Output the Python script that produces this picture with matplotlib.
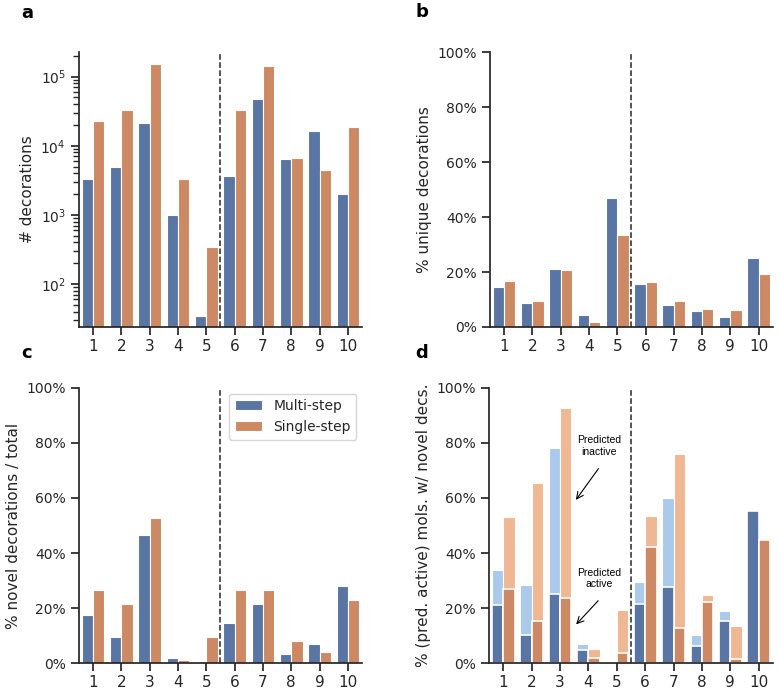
import numpy as np
import matplotlib
matplotlib.use("Agg")
import matplotlib.pyplot as plt
import matplotlib.ticker as mticker
import seaborn as sns

sns.set_theme(style="ticks")
plt.rcParams["font.family"] = ["DejaVu Sans"]

categories = ["1", "2", "3", "4", "5", "6", "7", "8", "9", "10"]

# panel a: number of decorations (log scale)
multi_decorations = [3340, 4890, 21400, 1000, 35, 3650, 47900, 6330, 16400, 2000]
single_decorations = [23100, 32400, 150000, 3340, 347, 32400, 141000, 6620, 4470, 18700]

# panel b: % unique decorations
multi_unique = [14.5, 8.9, 21.0, 4.5, 46.8, 15.8, 8.1, 5.7, 3.5, 25.0]
single_unique = [16.8, 9.6, 20.6, 1.7, 33.4, 16.3, 9.6, 6.7, 6.3, 19.2]

# panel c: % novel decorations / total
multi_novel = [17.3, 9.6, 46.5, 1.7, 0.0, 14.7, 21.6, 3.2, 6.8, 28.0]
single_novel = [26.7, 21.6, 52.8, 1.2, 9.6, 26.7, 26.7, 8.1, 4.0, 22.9]

# panel d: % mols with novel decorations (total) and predicted active part
multi_total = [33.9, 28.5, 78.3, 6.8, 0.0, 29.5, 59.9, 10.1, 18.8, 55.3]
multi_active = [21.2, 10.2, 25.2, 4.8, 0.0, 21.6, 27.5, 6.1, 15.2, 55.3]
single_total = [53.0, 65.3, 92.6, 5.0, 19.3, 53.5, 76.0, 24.7, 13.3, 45.6]
single_active = [26.9, 15.2, 23.5, 1.8, 3.6, 42.2, 12.6, 22.1, 1.5, 44.6]

BLUE = sns.desaturate("#4C72B0", 0.75)
ORANGE = sns.desaturate("#DD8452", 0.75)
LIGHT_BLUE = sns.desaturate("#A1C9F4", 0.75)
LIGHT_ORANGE = sns.desaturate("#FFB482", 0.75)

TICK_SIZE = 10
XTICK_SIZE = 11
LABEL_SIZE = 11
WIDTH = 0.4

x = np.arange(len(categories))

fig = plt.figure(figsize=(7.79, 6.89), dpi=100)
ax_a = fig.add_axes([0.1014, 0.5254, 0.3633, 0.3991])
ax_b = fig.add_axes([0.629, 0.5254, 0.363, 0.3991])
ax_c = fig.add_axes([0.1014, 0.0377, 0.3633, 0.3992])
ax_d = fig.add_axes([0.628, 0.0377, 0.364, 0.3992])


def paired_bars(ax, multi, single):
    ax.bar(x - WIDTH / 2, multi, WIDTH, color=BLUE, edgecolor="white", linewidth=0.8, label="Multi-step")
    ax.bar(x + WIDTH / 2, single, WIDTH, color=ORANGE, edgecolor="white", linewidth=0.8, label="Single-step")


def style_axis(ax, ylabel, percent=True):
    ax.set_xlim(-0.5, 9.5)
    ax.set_xticks(x)
    ax.set_xticklabels(categories, fontsize=XTICK_SIZE)
    ax.axvline(4.5, color="0.15", linestyle="--", linewidth=1.1)
    ax.set_ylabel(ylabel, fontsize=LABEL_SIZE)
    if percent:
        ax.set_ylim(0, 100)
        ax.set_yticks([0, 20, 40, 60, 80, 100])
        ax.yaxis.set_major_formatter(mticker.PercentFormatter(decimals=0))
    ax.tick_params(axis="y", labelsize=TICK_SIZE)
    ax.tick_params(axis="x", pad=2.5)
    sns.despine(ax=ax)


# a
paired_bars(ax_a, multi_decorations, single_decorations)
ax_a.set_yscale("log")
ax_a.set_ylim(24, 2.26e5)
style_axis(ax_a, "# decorations", percent=False)

# b
paired_bars(ax_b, multi_unique, single_unique)
style_axis(ax_b, "% unique decorations")

# c
paired_bars(ax_c, multi_novel, single_novel)
style_axis(ax_c, "% novel decorations / total")
ax_c.legend(loc="upper right", fontsize=TICK_SIZE, frameon=True, borderaxespad=0.4)

# d
ax_d.bar(x - WIDTH / 2, multi_total, WIDTH, color=LIGHT_BLUE, edgecolor="white", linewidth=0.8)
ax_d.bar(x - WIDTH / 2, multi_active, WIDTH, color=BLUE, edgecolor="white", linewidth=1.2)
ax_d.bar(x + WIDTH / 2, single_total, WIDTH, color=LIGHT_ORANGE, edgecolor="white", linewidth=0.8)
ax_d.bar(x + WIDTH / 2, single_active, WIDTH, color=ORANGE, edgecolor="white", linewidth=1.2)
style_axis(ax_d, "% (pred. active) mols. w/ novel decs.")

note_font = dict(family=["Liberation Sans", "DejaVu Sans"], fontsize=7.5, ha="center", va="center", color="black")
arrow = dict(arrowstyle="->", color="black", lw=0.8)
ax_d.annotate("", xy=(2.5, 58.5), xytext=(3.41, 71.5), arrowprops=arrow)
ax_d.text(3.37, 78.8, "Predicted\ninactive", **note_font)
ax_d.annotate("", xy=(2.5, 13.3), xytext=(3.41, 23.4), arrowprops=arrow)
ax_d.text(3.37, 30.7, "Predicted\nactive", **note_font)

# panel letters
for letter, (px, py) in zip("abcd", [(27, 13), (422, 12), (27, 353), (422, 353)]):
    fig.text(px / 779, 1 - py / 689, letter, fontsize=13, fontweight="bold", ha="center", va="center", color="black")

fig.savefig("out.png", dpi=100)
